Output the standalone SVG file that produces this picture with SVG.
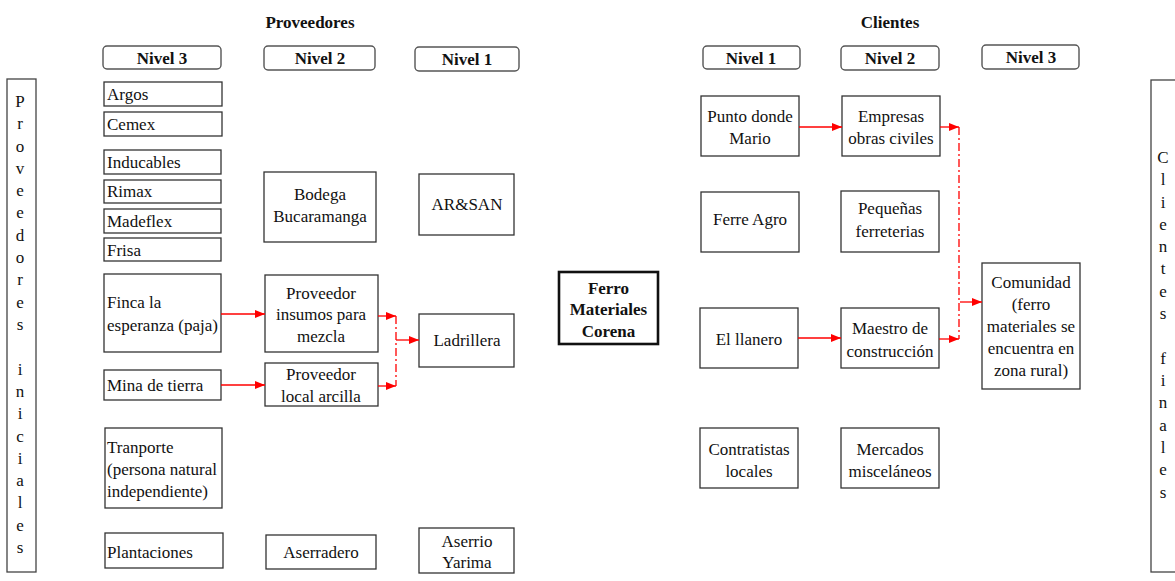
<svg xmlns="http://www.w3.org/2000/svg" width="1175" height="581" viewBox="0 0 1175 581">
  <style>
    text { font-family: "Liberation Serif", Tinos, "Times New Roman", Times, "DejaVu Serif", serif; font-size: 17px; fill: #111; }
    .b { font-weight: bold; }
    .c { text-anchor: middle; }
    .box { fill: #fff; stroke: #333; stroke-width: 1.3; }
    .main { fill: #fff; stroke: #111; stroke-width: 2.6; }
    .pill { fill: #fff; stroke: #555; stroke-width: 1.4; }
    .side { fill: #fff; stroke: #444; stroke-width: 1.3; }
    .arr { fill: none; stroke: #f00; stroke-width: 1.3; marker-end: url(#ah); }
    .dd { fill: none; stroke: #f00; stroke-width: 1.3; stroke-dasharray: 8 3 2 3; }
  </style>
  <defs>
    <marker id="ah" viewBox="0 0 10 8" refX="10" refY="4" markerWidth="10" markerHeight="8" orient="auto" markerUnits="userSpaceOnUse">
      <path d="M0,0 L10,4 L0,8 z" fill="#f00"/>
    </marker>
  </defs>

  <rect width="1175" height="581" fill="#fff"/>

  <!-- section titles -->
  <text class="b c" x="310" y="28">Proveedores</text>
  <text class="b c" x="890" y="28">Clientes</text>

  <!-- level headers -->
  <g id="headers">
    <rect class="pill" x="103" y="46" width="118" height="23" rx="4"/>
    <text class="b c" x="162" y="64">Nivel 3</text>
    <rect class="pill" x="264" y="46" width="111" height="24" rx="4"/>
    <text class="b c" x="320" y="64">Nivel 2</text>
    <rect class="pill" x="415" y="47" width="104" height="24" rx="4"/>
    <text class="b c" x="467" y="65">Nivel 1</text>
    <rect class="pill" x="703" y="46" width="97" height="23" rx="4"/>
    <text class="b c" x="751" y="64">Nivel 1</text>
    <rect class="pill" x="841" y="46" width="98" height="24" rx="4"/>
    <text class="b c" x="890" y="64">Nivel 2</text>
    <rect class="pill" x="982" y="45" width="97" height="24" rx="4"/>
    <text class="b c" x="1031" y="63">Nivel 3</text>
  </g>

  <!-- side bands -->
  <g id="proveedores-iniciales">
    <rect class="side" x="7" y="79" width="29" height="493"/>
    <g class="c">
      <text x="20" y="107">P</text><text x="20" y="129">r</text><text x="20" y="152">o</text>
      <text x="20" y="174">v</text><text x="20" y="196">e</text><text x="20" y="218">e</text>
      <text x="20" y="241">d</text><text x="20" y="263">o</text><text x="20" y="285">r</text>
      <text x="20" y="308">e</text><text x="20" y="330">s</text>
      <text x="20" y="375">i</text><text x="20" y="397">n</text><text x="20" y="419">i</text>
      <text x="20" y="442">c</text><text x="20" y="464">i</text><text x="20" y="486">a</text>
      <text x="20" y="508">l</text><text x="20" y="531">e</text><text x="20" y="553">s</text>
    </g>
  </g>
  <g id="clientes-finales">
    <rect class="side" x="1151" y="80" width="40" height="492"/>
    <g class="c">
      <text x="1163" y="163">C</text><text x="1163" y="185">l</text><text x="1163" y="208">i</text>
      <text x="1163" y="230">e</text><text x="1163" y="252">n</text><text x="1163" y="274">t</text>
      <text x="1163" y="297">e</text><text x="1163" y="319">s</text>
      <text x="1163" y="364">f</text><text x="1163" y="386">i</text><text x="1163" y="408">n</text>
      <text x="1163" y="431">a</text><text x="1163" y="453">l</text><text x="1163" y="475">e</text>
      <text x="1163" y="498">s</text>
    </g>
  </g>

  <!-- suppliers, level 3 -->
  <g id="argos"><rect class="box" x="104" y="82" width="118" height="24"/><text x="107" y="100">Argos</text></g>
  <g id="cemex"><rect class="box" x="104" y="112" width="118" height="24"/><text x="107" y="130">Cemex</text></g>
  <g id="inducables"><rect class="box" x="104" y="150" width="117" height="24"/><text x="107" y="168">Inducables</text></g>
  <g id="rimax"><rect class="box" x="104" y="180" width="117" height="23"/><text x="107" y="197">Rimax</text></g>
  <g id="madeflex"><rect class="box" x="104" y="209" width="117" height="24"/><text x="107" y="227">Madeflex</text></g>
  <g id="frisa"><rect class="box" x="104" y="238" width="117" height="23"/><text x="107" y="256">Frisa</text></g>
  <g id="finca"><rect class="box" x="104" y="274" width="117" height="78"/><text x="107" y="308">Finca la</text><text x="107" y="331">esperanza (paja)</text></g>
  <g id="mina"><rect class="box" x="104" y="370" width="117" height="30"/><text x="107" y="391">Mina de tierra</text></g>
  <g id="transporte"><rect class="box" x="105" y="428" width="117" height="80"/><text x="107" y="453">Tranporte</text><text x="107" y="475">(persona natural</text><text x="107" y="497">independiente)</text></g>
  <g id="plantaciones"><rect class="box" x="105" y="533" width="118" height="35"/><text x="107" y="558">Plantaciones</text></g>

  <!-- suppliers, level 2 -->
  <g id="bodega"><rect class="box" x="264" y="172" width="112" height="70"/><text class="c" x="320" y="200">Bodega</text><text class="c" x="320" y="222">Bucaramanga</text></g>
  <g id="insumos"><rect class="box" x="265" y="275" width="113" height="77"/><text class="c" x="321" y="299">Proveedor</text><text class="c" x="321" y="320">insumos para</text><text class="c" x="321" y="342">mezcla</text></g>
  <g id="arcilla"><rect class="box" x="265" y="363" width="113" height="43"/><text class="c" x="321" y="380">Proveedor</text><text class="c" x="321" y="402">local arcilla</text></g>
  <g id="aserradero"><rect class="box" x="266" y="535" width="110" height="34"/><text class="c" x="321" y="558">Aserradero</text></g>

  <!-- suppliers, level 1 -->
  <g id="arsan"><rect class="box" x="419" y="174" width="95" height="61"/><text class="c" x="467" y="210">AR&amp;SAN</text></g>
  <g id="ladrillera"><rect class="box" x="419" y="314" width="95" height="53"/><text class="c" x="467" y="346">Ladrillera</text></g>
  <g id="yarima"><rect class="box" x="419" y="528" width="95" height="45"/><text class="c" x="467" y="547">Aserrio</text><text class="c" x="467" y="568">Yarima</text></g>

  <!-- focal company -->
  <g id="ferro-materiales-corena">
    <rect class="main" x="559" y="272" width="99" height="72"/>
    <text class="b c" x="608.5" y="294">Ferro</text>
    <text class="b c" x="608.5" y="315">Materiales</text>
    <text class="b c" x="608.5" y="337">Corena</text>
  </g>

  <!-- customers, level 1 -->
  <g id="punto-mario"><rect class="box" x="701" y="96" width="98" height="60"/><text class="c" x="750" y="122">Punto donde</text><text class="c" x="750" y="144">Mario</text></g>
  <g id="ferre-agro"><rect class="box" x="701" y="192" width="98" height="60"/><text class="c" x="750" y="225">Ferre Agro</text></g>
  <g id="llanero"><rect class="box" x="700" y="308" width="98" height="60"/><text class="c" x="749" y="345">El llanero</text></g>
  <g id="contratistas"><rect class="box" x="700" y="428" width="98" height="60"/><text class="c" x="749" y="455">Contratistas</text><text class="c" x="749" y="477">locales</text></g>

  <!-- customers, level 2 -->
  <g id="empresas"><rect class="box" x="842" y="96" width="98" height="60"/><text class="c" x="891" y="122">Empresas</text><text class="c" x="891" y="144">obras civiles</text></g>
  <g id="pequenas"><rect class="box" x="841" y="191" width="98" height="61"/><text class="c" x="890" y="214">Pequeñas</text><text class="c" x="890" y="237">ferreterias</text></g>
  <g id="maestro"><rect class="box" x="841" y="308" width="98" height="60"/><text class="c" x="890" y="334">Maestro de</text><text class="c" x="890" y="357">construcción</text></g>
  <g id="mercados"><rect class="box" x="841" y="428" width="98" height="60"/><text class="c" x="890" y="455">Mercados</text><text class="c" x="890" y="477">misceláneos</text></g>

  <!-- customers, level 3 -->
  <g id="comunidad">
    <rect class="box" x="982" y="263" width="98" height="126"/>
    <text class="c" x="1031" y="288">Comunidad</text>
    <text class="c" x="1031" y="310">(ferro</text>
    <text class="c" x="1031" y="332">materiales se</text>
    <text class="c" x="1031" y="354">encuentra en</text>
    <text class="c" x="1031" y="376">zona rural)</text>
  </g>

  <!-- flows -->
  <g id="connectors">
    <path class="arr" d="M221,314 H265"/>
    <path class="arr" d="M221,385 H265"/>
    <path class="arr" d="M378,316 H396"/>
    <path class="arr" d="M378,386 H396"/>
    <path class="dd" d="M396,316 V386"/>
    <path class="arr" d="M396,340 H419"/>

    <path class="arr" d="M799,127 H842"/>
    <path class="arr" d="M798,338 H841"/>
    <path class="arr" d="M940,127 H959"/>
    <path class="arr" d="M939,339 H959"/>
    <path class="dd" d="M959,127 V339"/>
    <path class="arr" d="M960,302 H982"/>
  </g>
</svg>
